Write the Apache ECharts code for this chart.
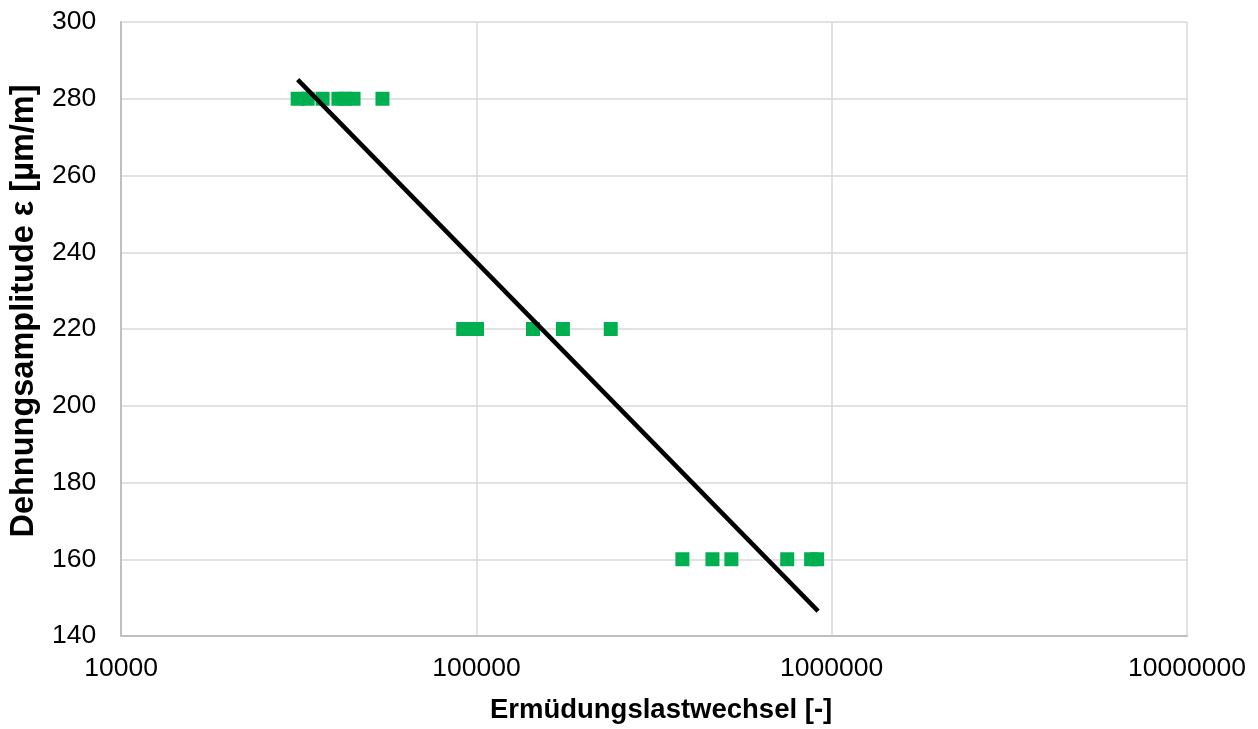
<!DOCTYPE html>
<html>
<head>
<meta charset="utf-8">
<style>
  html, body { margin: 0; padding: 0; background: #ffffff; overflow: hidden; }
  #chart { width: 1258px; height: 729px; }
</style>
<script src="https://cdn.jsdelivr.net/npm/echarts@6/dist/echarts.min.js"></script>
</head>
<body>
<div id="chart"></div>
<script>
// Fatigue test results: load cycles to failure per strain amplitude
const cycles280 = [31400, 33500, 36900, 40900, 42800, 45100, 54400];
const cycles220 = [91800, 96000, 100400, 144300, 175200, 238800];
const cycles160 = [380000, 461700, 522000, 749600, 875000, 909800];
const strainLevels = [280, 220, 160];

// Logarithmic trend line endpoints (N, ε)
const trendN = [31400, 915500];
const trendEps = [285, 146.5];

const points = [];
[cycles280, cycles220, cycles160].forEach(function (arr, i) {
  arr.forEach(function (n) { points.push([n, strainLevels[i]]); });
});
const trend = trendN.map(function (n, i) { return [n, trendEps[i]]; });

const font = 'Liberation Sans, Arial, sans-serif';
const chart = echarts.init(document.getElementById('chart'), null, { renderer: 'canvas' });
chart.setOption({
  animation: false,
  backgroundColor: '#ffffff',
  grid: { left: 118, right: 71, top: 22, bottom: 89, containLabel: false },
  xAxis: {
    type: 'log',
    logBase: 10,
    min: 10000,
    max: 10000000,
    name: 'Ermüdungslastwechsel [-]',
    nameLocation: 'middle',
    nameGap: 60,
    nameTextStyle: {
      fontFamily: font, fontSize: 27.5, fontWeight: 'bold', color: '#000',
      padding: [0, 0, 0, 14]
    },
    axisLine: { show: true, lineStyle: { color: '#bfbfbf', width: 2 } },
    axisTick: { show: false },
    minorTick: { show: false },
    axisLabel: {
      fontFamily: font, fontSize: 26.5, color: '#000', margin: 19,
      formatter: function (v) { return String(Math.round(v)); }
    },
    splitLine: { show: true, lineStyle: { color: '#d9d9d9', width: 1.5 } }
  },
  yAxis: {
    type: 'value',
    min: 140,
    max: 300,
    interval: 20,
    name: 'Dehnungsamplitude ε [µm/m]',
    nameLocation: 'middle',
    nameGap: 78,
    nameRotate: 90,
    nameTextStyle: {
      fontFamily: font, fontSize: 32.5, fontWeight: 'bold', color: '#000',
      padding: [0, 0, 0, 36]
    },
    axisLine: { show: true, lineStyle: { color: '#bfbfbf', width: 2 } },
    axisTick: { show: false },
    axisLabel: { fontFamily: font, fontSize: 26.5, color: '#000', margin: 25 },
    splitLine: { show: true, lineStyle: { color: '#d9d9d9', width: 1.5 } }
  },
  series: [
    {
      type: 'scatter',
      data: points,
      symbol: 'rect',
      symbolSize: 14,
      itemStyle: { color: '#00b050', opacity: 1 },
      z: 2
    },
    {
      type: 'line',
      data: trend,
      symbol: 'none',
      lineStyle: { color: '#000000', width: 4.5 },
      z: 3
    }
  ]
});
</script>
</body>
</html>
